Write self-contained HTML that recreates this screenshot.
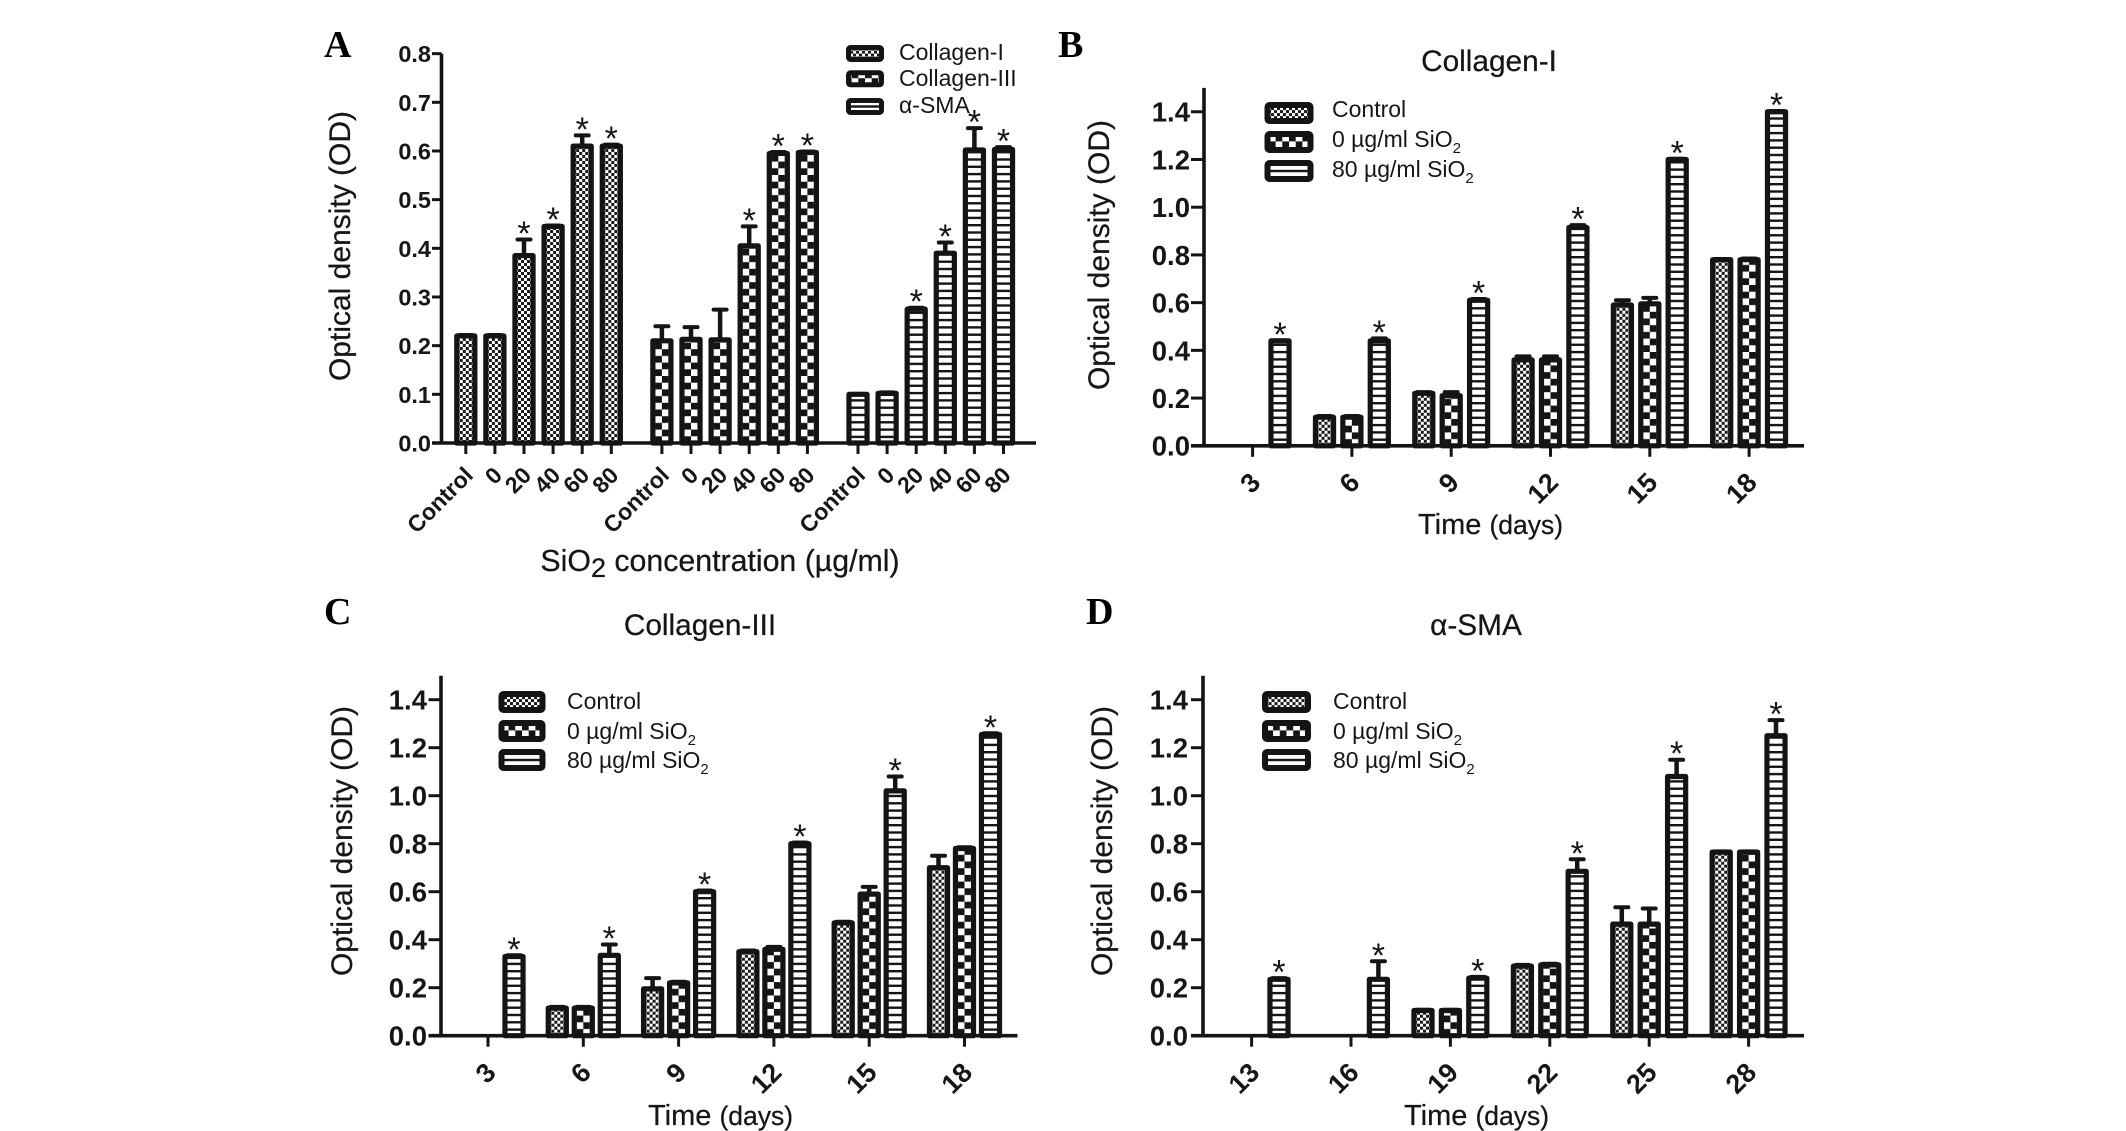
<!DOCTYPE html>
<html lang="en">
<head>
<meta charset="utf-8">
<title>Optical density charts</title>
<style>
  html, body { margin: 0; padding: 0; background: #fff; }
  svg { display: block; }
  text { font-family: "Liberation Sans", "DejaVu Sans", sans-serif; fill: #161616; }
  .panel-letter { font-family: "Liberation Serif", serif; font-weight: bold; font-size: 38px; fill: #000; }
  .title { font-size: 29.8px; text-anchor: middle; stroke: #161616; stroke-width: 0.25px; }
  .axis-title { font-size: 30px; text-anchor: middle; stroke: #161616; stroke-width: 0.25px; }
  .time-title { stroke: #161616; stroke-width: 0.25px; }
  .legend { font-size: 23px; }
  .legend tspan.sub { font-size: 15px; }
</style>
</head>
<body>
<svg id="figure" xmlns="http://www.w3.org/2000/svg" width="2126" height="1131" viewBox="0 0 2126 1131">
  <defs>
    <pattern id="fine" patternUnits="userSpaceOnUse" width="6" height="6">
      <rect width="6" height="6" fill="#fff"/>
      <rect width="3" height="3" fill="#1a1a1a"/>
      <rect x="3" y="3" width="3" height="3" fill="#1a1a1a"/>
    </pattern>
    <pattern id="check" patternUnits="userSpaceOnUse" width="13.4" height="13.4">
      <rect width="13.4" height="13.4" fill="#141414"/>
      <rect x="0" y="6.7" width="6.7" height="6.7" fill="#fff"/>
      <rect x="6.7" y="0" width="6.7" height="6.7" fill="#fff"/>
    </pattern>
    <pattern id="stripe" patternUnits="userSpaceOnUse" width="7.3" height="7.3">
      <rect width="7.3" height="7.3" fill="#fff"/>
      <rect width="7.3" height="2.4" fill="#141414"/>
    </pattern>
  </defs>

  <g>
    <text class="panel-letter" x="324" y="57">A</text>
    <text class="axis-title" transform="translate(350 246) rotate(-90)">Optical density (OD)</text>
    <text class="axis-title" x="720" y="571" style="font-size:30.3px">SiO<tspan font-size="27" dy="6">2</tspan><tspan dy="-6"> concentration (µg/ml)</tspan></text>
    <g class="legend">
      <g transform="translate(865 59.6)"><rect x="-16.5" y="-12.1" width="33" height="12" rx="2" fill="url(#fine)" stroke="#141414" stroke-width="5"/></g>
      <g transform="translate(865 84.9)"><rect x="-16.5" y="-12.1" width="33" height="12" rx="2" fill="url(#check)" stroke="#141414" stroke-width="5"/></g>
      <g transform="translate(865 112.6)"><rect x="-16.5" y="-12.1" width="33" height="12" rx="2" fill="url(#stripe)" stroke="#141414" stroke-width="5"/></g>
      <text x="899" y="60">Collagen-I</text>
      <text x="899" y="86">Collagen-III</text>
      <text x="899" y="113">α-SMA</text>
    </g>
  </g>

  <g>
    <text class="panel-letter" x="1058" y="57">B</text>
    <text class="title" x="1489" y="71">Collagen-I</text>
    <text class="axis-title" transform="translate(1109 255) rotate(-90)">Optical density (OD)</text>
    <text class="time-title" x="1418" y="534" font-size="29">Time <tspan font-size="26.5">(days)</tspan></text>
    <g class="legend">
      <g transform="translate(1289 119.1)"><rect x="-21.5" y="-14.1" width="43" height="16" rx="2" fill="url(#fine)" stroke="#141414" stroke-width="6"/></g>
      <g transform="translate(1289 148.1)"><rect x="-21.5" y="-14.1" width="43" height="16" rx="2" fill="url(#check)" stroke="#141414" stroke-width="6"/></g>
      <g transform="translate(1289 177.1)"><rect x="-21.5" y="-14.1" width="43" height="16" rx="2" fill="url(#stripe)" stroke="#141414" stroke-width="6"/></g>
      <text x="1332" y="117">Control</text>
      <text x="1332" y="147">0 µg/ml SiO<tspan class="sub" dy="6">2</tspan></text>
      <text x="1332" y="177">80 µg/ml SiO<tspan class="sub" dy="6">2</tspan></text>
    </g>
  </g>

  <g>
    <text class="panel-letter" x="324" y="624">C</text>
    <text class="title" x="700" y="635">Collagen-III</text>
    <text class="axis-title" transform="translate(352 841) rotate(-90)">Optical density (OD)</text>
    <text class="time-title" x="648" y="1125" font-size="29">Time <tspan font-size="26.5">(days)</tspan></text>
    <g class="legend">
      <g transform="translate(522 708.1)"><rect x="-20.5" y="-14.1" width="41" height="16" rx="2" fill="url(#fine)" stroke="#141414" stroke-width="6"/></g>
      <g transform="translate(522 737.1)"><rect x="-20.5" y="-14.1" width="41" height="16" rx="2" fill="url(#check)" stroke="#141414" stroke-width="6"/></g>
      <g transform="translate(522 766.1)"><rect x="-20.5" y="-14.1" width="41" height="16" rx="2" fill="url(#stripe)" stroke="#141414" stroke-width="6"/></g>
      <text x="567" y="709">Control</text>
      <text x="567" y="739">0 µg/ml SiO<tspan class="sub" dy="6">2</tspan></text>
      <text x="567" y="768">80 µg/ml SiO<tspan class="sub" dy="6">2</tspan></text>
    </g>
  </g>

  <g>
    <text class="panel-letter" x="1086" y="624">D</text>
    <text class="title" x="1476" y="635">α-SMA</text>
    <text class="axis-title" transform="translate(1112 841) rotate(-90)">Optical density (OD)</text>
    <text class="time-title" x="1404" y="1125" font-size="29">Time <tspan font-size="26.5">(days)</tspan></text>
    <g class="legend">
      <g transform="translate(1286.5 708.1)"><rect x="-21.5" y="-14.1" width="43" height="16" rx="2" fill="url(#fine)" stroke="#141414" stroke-width="6"/></g>
      <g transform="translate(1286.5 737.1)"><rect x="-21.5" y="-14.1" width="43" height="16" rx="2" fill="url(#check)" stroke="#141414" stroke-width="6"/></g>
      <g transform="translate(1286.5 766.1)"><rect x="-21.5" y="-14.1" width="43" height="16" rx="2" fill="url(#stripe)" stroke="#141414" stroke-width="6"/></g>
      <text x="1333" y="709">Control</text>
      <text x="1333" y="739">0 µg/ml SiO<tspan class="sub" dy="6">2</tspan></text>
      <text x="1333" y="768">80 µg/ml SiO<tspan class="sub" dy="6">2</tspan></text>
    </g>
  </g>
</svg>

<script>
// ---- Panel A data ----
const panelACategories = ['Control', '0', '20', '40', '60', '80'];
const panelAYTicks = ['0.0', '0.1', '0.2', '0.3', '0.4', '0.5', '0.6', '0.7', '0.8'];
const panelACollagen1 = [0.22, 0.22, 0.385, 0.445, 0.61, 0.61];
const panelACollagen1Err = [0.002, 0.002, 0.033, 0.002, 0.022, 0.003];
const panelACollagen1Sig = [0, 0, 1, 1, 1, 1];
const panelACollagen3 = [0.21, 0.213, 0.212, 0.405, 0.595, 0.597];
const panelACollagen3Err = [0.03, 0.025, 0.062, 0.04, 0.003, 0.002];
const panelACollagen3Sig = [0, 0, 0, 1, 1, 1];
const panelASma = [0.10, 0.102, 0.275, 0.39, 0.602, 0.603];
const panelASmaErr = [0.001, 0.002, 0.003, 0.022, 0.045, 0.005];
const panelASmaSig = [0, 0, 1, 1, 1, 1];

// ---- Panels B, C, D data ----
const timeYTicks = ['0.0', '0.2', '0.4', '0.6', '0.8', '1.0', '1.2', '1.4'];

const panelBDays = ['3', '6', '9', '12', '15', '18'];
const panelBControl = [null, 0.12, 0.22, 0.36, 0.59, 0.78];
const panelBControlErr = [0, 0.005, 0.005, 0.015, 0.02, 0.003];
const panelBZero = [null, 0.12, 0.21, 0.36, 0.595, 0.78];
const panelBZeroErr = [0, 0.005, 0.015, 0.015, 0.025, 0.005];
const panelBEighty = [0.44, 0.44, 0.61, 0.915, 1.2, 1.4];
const panelBEightyErr = [0.002, 0.01, 0.005, 0.01, 0.003, 0.003];

const panelCDays = ['3', '6', '9', '12', '15', '18'];
const panelCControl = [null, 0.115, 0.195, 0.35, 0.47, 0.70];
const panelCControlErr = [0, 0.005, 0.045, 0.005, 0.005, 0.05];
const panelCZero = [null, 0.115, 0.22, 0.36, 0.59, 0.78];
const panelCZeroErr = [0, 0.005, 0.005, 0.01, 0.03, 0.005];
const panelCEighty = [0.33, 0.335, 0.60, 0.80, 1.02, 1.255];
const panelCEightyErr = [0.005, 0.045, 0.005, 0.005, 0.06, 0.005];

const panelDDays = ['13', '16', '19', '22', '25', '28'];
const panelDControl = [null, null, 0.105, 0.29, 0.465, 0.765];
const panelDControlErr = [0, 0, 0.003, 0.005, 0.07, 0.003];
const panelDZero = [null, null, 0.105, 0.295, 0.465, 0.765];
const panelDZeroErr = [0, 0, 0.003, 0.005, 0.065, 0.003];
const panelDEighty = [0.235, 0.235, 0.24, 0.685, 1.08, 1.25];
const panelDEightyErr = [0.005, 0.075, 0.005, 0.05, 0.07, 0.065];

const allStars = [1, 1, 1, 1, 1, 1];
const noStars = [0, 0, 0, 0, 0, 0];

const NS = 'http://www.w3.org/2000/svg';
const INK = '#141414';
const figure = document.getElementById('figure');

function mk(tag, attrs, parent) {
  const el = document.createElementNS(NS, tag);
  for (const k in attrs) el.setAttribute(k, attrs[k]);
  parent.appendChild(el);
  return el;
}

function drawAxes(g, p) {
  const yAxis = mk('line', { x1: p.axisX, x2: p.axisX, y1: p.y(p.yMax), y2: p.y0 + 1.5, stroke: INK, 'stroke-width': 3.6 }, g);
  
  
  const xAxis = mk('line', { x1: p.tickLeft, x2: p.axisRight, y1: p.y0, y2: p.y0, stroke: INK, 'stroke-width': 3.6 }, g);
  
  

  p.yTicks.forEach(function (label) {
    const yy = p.y(parseFloat(label));
    const tick = mk('line', { x1: p.tickLeft, x2: p.axisX, y1: yy, y2: yy, stroke: INK, 'stroke-width': 3 }, g);
    
    
    const t = mk('text', { x: p.yLabelX, y: yy, dy: '0.36em', 'text-anchor': 'end', 'font-weight': 'bold', 'font-size': p.yFont }, g);
    
    
    t.textContent = label;
  });
}

function drawXTick(g, p, xx, label) {
  const tick = mk('line', { x1: xx, x2: xx, y1: p.y0, y2: p.y0 + 11, stroke: INK, 'stroke-width': 3 }, g);
  
  
  const t = mk('text', {
    transform: 'translate(' + (xx + p.xLabelDx) + ' ' + (p.y0 + p.xLabelDy) + ') rotate(-45)',
    'text-anchor': 'end', 'dominant-baseline': 'central', 'font-weight': 'bold', 'font-size': p.xFont
  }, g);
  
  
  t.textContent = label;
}

function drawBar(g, p, xx, value, err, sig, patternId, seriesName) {
  if (value === null) return;
  const topY = p.y(value);
  const errY = p.y(value + err);
  if (err > 0) {
    const stem = mk('line', { x1: xx, x2: xx, y1: topY, y2: errY, stroke: INK, 'stroke-width': 4.5 }, g);
    
    
    const cap = mk('line', { x1: xx - 6.5, x2: xx + 6.5, y1: errY, y2: errY, stroke: INK, 'stroke-width': 4, 'stroke-linecap': 'round' }, g);
    
    
  }
  const holder = mk('g', { transform: 'translate(' + xx + ' ' + p.y0 + ')' }, g);
  const h = p.y0 - topY;
  const bar = mk('rect', {
    x: -9.05, y: -h, width: 18.1, height: h,
    fill: 'url(#' + patternId + ')', stroke: INK, 'stroke-width': 5.2, 'stroke-linejoin': 'round'
  }, holder);
  
  
  if (sig) {
    const star = mk('text', { x: xx, y: errY + 5.5, 'text-anchor': 'middle', 'font-size': 34 }, g);
    
    
    star.textContent = '*';
  }
}

function scale(y0, k) {
  return function (v) { return y0 - v * k; };
}

// Panel A
(function () {
  const y0 = 443;
  const p = {
    y0: y0, y: scale(y0, 486.7), yMax: 0.8, axisX: 441.5, tickLeft: 432, axisRight: 1036,
    yLabelX: 431, yFont: 23.5, yTicks: panelAYTicks, xFont: 23, xLabelDx: 3, xLabelDy: 28
  };
  const g = mk('g', {}, figure);
  
  
  const groups = [
    { name: 'collagen-i', pattern: 'fine', values: panelACollagen1, errs: panelACollagen1Err, sig: panelACollagen1Sig },
    { name: 'collagen-iii', pattern: 'check', values: panelACollagen3, errs: panelACollagen3Err, sig: panelACollagen3Sig },
    { name: 'alpha-sma', pattern: 'stripe', values: panelASma, errs: panelASmaErr, sig: panelASmaSig }
  ];
  const xPos = function (gi, ci) { return 465.8 + gi * 196.1 + ci * 29.1; };
  drawAxes(g, p);
  groups.forEach(function (s, gi) {
    panelACategories.forEach(function (c, ci) {
      drawXTick(g, p, xPos(gi, ci), c);
      drawBar(g, p, xPos(gi, ci), s.values[ci], s.errs[ci], s.sig[ci], s.pattern, s.name);
    });
  });
})();

function timePanel(name, cfg, days, control, controlErr, zero, zeroErr, eighty, eightyErr) {
  const p = {
    y0: cfg.y0, y: scale(cfg.y0, cfg.k), yMax: 1.5, axisX: cfg.axisX, tickLeft: cfg.tickLeft, axisRight: cfg.axisRight,
    yLabelX: cfg.yLabelX, yFont: 27.5, yTicks: timeYTicks, xFont: 27, xLabelDx: 3, xLabelDy: 32
  };
  const g = mk('g', {}, figure);
  
  
  drawAxes(g, p);
  const series = [
    { name: 'control', pattern: 'fine', values: control, errs: controlErr, sig: noStars, offset: -1 },
    { name: '0-sio2', pattern: 'check', values: zero, errs: zeroErr, sig: noStars, offset: 0 },
    { name: '80-sio2', pattern: 'stripe', values: eighty, errs: eightyErr, sig: allStars, offset: 1 }
  ];
  days.forEach(function (d, i) {
    const tx = cfg.x0 + i * cfg.step;
    drawXTick(g, p, tx, d);
    series.forEach(function (s) {
      drawBar(g, p, tx + s.offset * cfg.barStep, s.values[i], s.errs[i], s.sig[i], s.pattern, s.name);
    });
  });
}

timePanel('panel-b', { y0: 445.8, k: 238.6, axisX: 1204, tickLeft: 1191, axisRight: 1804, yLabelX: 1190, x0: 1252.6, step: 99.3, barStep: 27.4 },
  panelBDays, panelBControl, panelBControlErr, panelBZero, panelBZeroErr, panelBEighty, panelBEightyErr);
timePanel('panel-c', { y0: 1035.7, k: 240, axisX: 441, tickLeft: 428.5, axisRight: 1017.5, yLabelX: 427, x0: 488, step: 95.3, barStep: 26 },
  panelCDays, panelCControl, panelCControlErr, panelCZero, panelCZeroErr, panelCEighty, panelCEightyErr);
timePanel('panel-d', { y0: 1035.7, k: 240, axisX: 1203, tickLeft: 1191, axisRight: 1804, yLabelX: 1188, x0: 1251.6, step: 99.4, barStep: 27.4 },
  panelDDays, panelDControl, panelDControlErr, panelDZero, panelDZeroErr, panelDEighty, panelDEightyErr);
</script>
</body>
</html>
